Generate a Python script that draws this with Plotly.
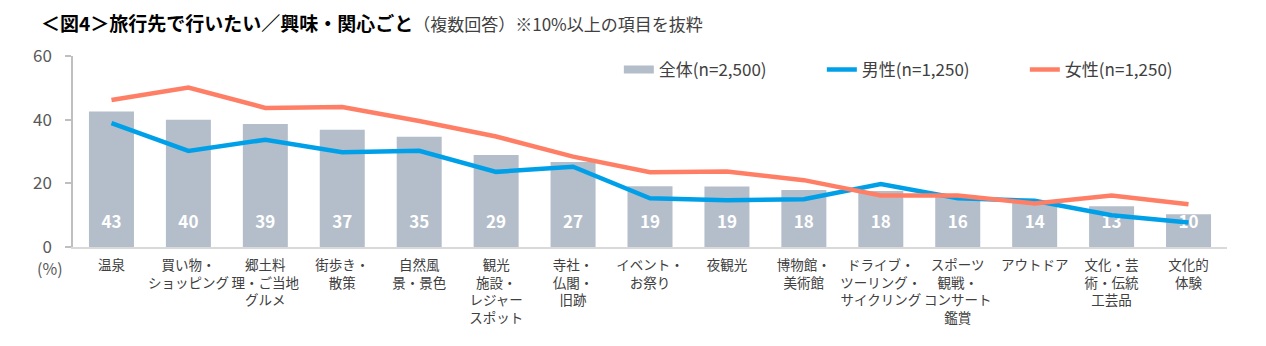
import plotly.graph_objects as go

categories = [
    "温泉", "買い物・<br>ショッピング", "郷土料<br>理・ご当地<br>グルメ", "街歩き・<br>散策",
    "自然風<br>景・景色", "観光<br>施設・<br>レジャー<br>スポット", "寺社・<br>仏閣・<br>旧跡",
    "イベント・<br>お祭り", "夜観光", "博物館・<br>美術館", "ドライブ・<br>ツーリング・<br>サイクリング",
    "スポーツ<br>観戦・<br>コンサート<br>鑑賞", "アウトドア", "文化・芸<br>術・伝統<br>工芸品", "文化的<br>体験",
]
total = [42.6, 40.0, 38.6, 36.8, 34.6, 28.9, 26.7, 19.1, 19.0, 17.9, 17.6, 15.8, 14.2, 12.8, 10.3]
male = [38.9, 30.2, 33.7, 29.8, 30.2, 23.6, 25.2, 15.3, 14.7, 15.0, 19.8, 15.3, 14.5, 10.0, 7.7]
female = [46.2, 50.1, 43.7, 44.0, 39.6, 34.7, 28.4, 23.5, 23.7, 21.0, 16.2, 16.2, 13.7, 16.2, 13.4]
x_idx = list(range(len(categories)))

FONT = "Noto Sans CJK JP"
BAR_COLOR = "#B4BECA"
LABEL_Y = 7.3

fig = go.Figure()
fig.add_trace(go.Bar(
    x=x_idx, y=total, name="全体(n=2,500)", marker_color=BAR_COLOR,
    marker_line_width=0, hoverinfo="skip", showlegend=False,
))
fig.add_trace(go.Scatter(
    x=x_idx, y=[LABEL_Y] * len(total), mode="text",
    text=[f"{v:.0f}" for v in total],
    textfont=dict(family=FONT, size=17, color="white", weight="bold"),
    showlegend=False, hoverinfo="skip",
))
# legend swatch for the bar series (wide rectangle like the reference)
fig.add_trace(go.Scatter(
    x=[None], y=[None], name="全体(n=2,500)", mode="lines",
    line=dict(color=BAR_COLOR, width=8),
))
fig.add_trace(go.Scatter(
    x=x_idx, y=male, name="男性(n=1,250)", mode="lines",
    line=dict(color="#00A0E9", width=4.5),
))
fig.add_trace(go.Scatter(
    x=x_idx, y=female, name="女性(n=1,250)", mode="lines",
    line=dict(color="#FF7F66", width=4.5),
))

fig.update_layout(
    width=1266, height=346,
    margin=dict(l=73, r=39, t=56, b=99),
    paper_bgcolor="white", plot_bgcolor="white",
    font=dict(family=FONT, color="#404040"),
    bargap=0.415,
    showlegend=True,
    legend=dict(
        orientation="h", x=0.473, xanchor="left", y=0.927, yanchor="middle",
        font=dict(size=17, color="#404040"), bgcolor="rgba(0,0,0,0)",
        entrywidth=158, entrywidthmode="pixels", traceorder="normal",
    ),
    xaxis=dict(
        tickmode="array", tickvals=x_idx, ticktext=categories, tickangle=0,
        range=[-0.5, len(categories) - 0.5],
        showline=True, linecolor="#D9D9D9", linewidth=2,
        ticks="", showgrid=False, zeroline=False, automargin=False,
        ticklabelstandoff=5,
        tickfont=dict(size=13.5, color="#404040", family=FONT),
    ),
    yaxis=dict(
        range=[0, 60], dtick=20, tickmode="linear",
        showline=True, linecolor="#BFBFBF", linewidth=1.5,
        ticks="outside", ticklen=6, tickcolor="#BFBFBF", tickwidth=1.5,
        showgrid=False, zeroline=False, automargin=False,
        ticklabelstandoff=10,
        tickfont=dict(size=17, color="#595959", family=FONT),
    ),
    annotations=[
        dict(
            xref="paper", yref="paper", x=-0.0297, y=1.175, xanchor="left", yanchor="middle",
            text="<b>＜図4＞旅行先で行いたい／興味・関心ごと</b>"
                 "<span style='font-size:17px;color:#404040'>（複数回答）※10%以上の項目を抜粋</span>",
            showarrow=False, font=dict(size=19, color="#000000", family=FONT),
        ),
        dict(
            xref="paper", yref="paper", x=-0.02, y=-0.108, xanchor="center", yanchor="middle",
            text="(%)", showarrow=False, font=dict(size=16, color="#595959", family=FONT),
        ),
    ],
)

fig.write_html("out.html")
